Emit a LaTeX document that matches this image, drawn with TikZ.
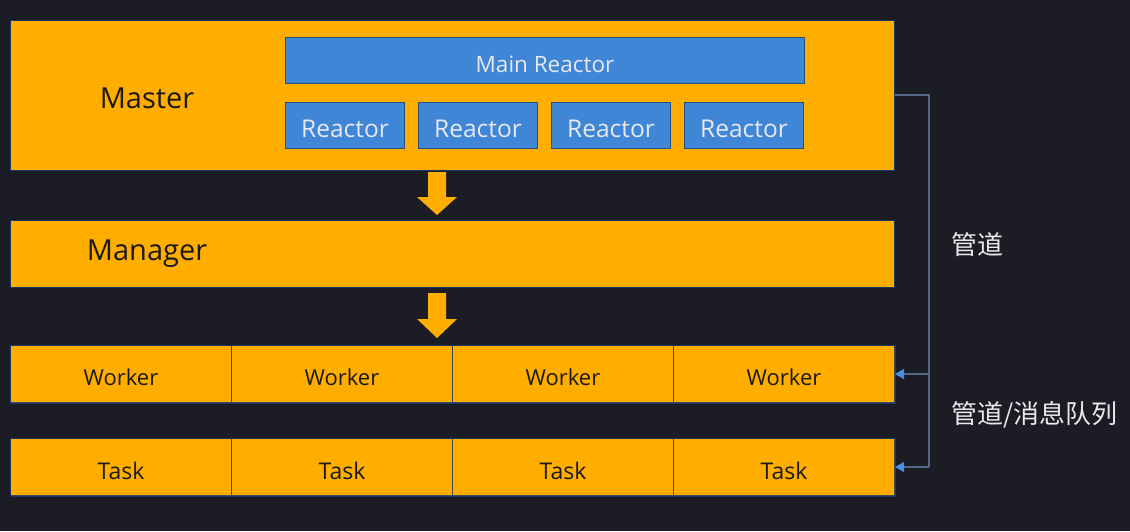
\documentclass[tikz,border=0pt]{standalone}
\usepackage{fontspec}
\setmainfont{Open Sans}
\newfontfamily\cjk{Noto Sans CJK SC}
\usetikzlibrary{arrows.meta,calc}
\definecolor{bgc}{HTML}{1C1C24}
\definecolor{orng}{HTML}{FFAE00}
\definecolor{blu}{HTML}{3F86D6}
\definecolor{bluedge}{HTML}{24507E}
\definecolor{navy}{HTML}{1A3766}
\definecolor{divc}{HTML}{3A4A5A}
\definecolor{linec}{HTML}{56688A}
\definecolor{tipc}{HTML}{4A8EE6}
\definecolor{txtd}{HTML}{1A1A1A}
\definecolor{txtl}{HTML}{E8E8EE}
\newcommand{\lowr}[2]{\raisebox{-#1}[\height][\depth]{#2}}
\tikzset{
  obox/.style={fill=orng, draw=navy, line width=0.8pt},
  bbox/.style={fill=blu, draw=bluedge, line width=1pt, text=txtl, font=\fontsize{24.5}{26}\selectfont},
  cell/.style={fill=orng, draw=divc, line width=1pt, text=txtd, font=\fontsize{22}{24}\selectfont},
  bigtxt/.style={text=txtd, font=\fontsize{29}{32}\selectfont},
  fatarrow/.style={fill=orng, draw=none},
  conn/.style={draw=linec, line width=1.1pt},
  tip/.style={-{Triangle[length=9pt,width=10pt,fill=tipc,color=tipc]}},
  lbl/.style={text=txtl, font=\cjk\fontsize{26}{28}\selectfont, anchor=west}
}
\begin{document}
\begin{tikzpicture}[x=1pt,y=-1pt]
\fill[bgc] (0,0) rectangle (1130,531);
\useasboundingbox (0,0) rectangle (1130,531);
% Master
\node[obox, minimum width=884pt, minimum height=150pt, inner sep=0pt, anchor=north west] (master) at (10,20) {};
\node[bigtxt] (mastertxt) at (147,98) {Master};
\node[bbox, minimum width=519pt, minimum height=46pt, inner sep=0pt, anchor=north west, font=\fontsize{22.5}{24}\selectfont] (mainr) at (285,37) {\lowr{4pt}{Main Reactor}};
\foreach \x/\n in {285/1,418/2,551/3,684/4}{
  \node[bbox, minimum width=119pt, minimum height=46pt, inner sep=0pt, anchor=north west] (r\n) at (\x,102) {\lowr{3pt}{Reactor}};
}
% Manager
\node[obox, minimum width=884pt, minimum height=67pt, inner sep=0pt, anchor=north west] (manager) at (10,220) {};
\node[bigtxt] (managertxt) at (147,254) {Manager};
% fat arrows
\fill[fatarrow] (428,172) -- (446,172) -- (446,197) -- (457,197) -- (437,215) -- (417,197) -- (428,197) -- cycle;
\fill[fatarrow] (428,293) -- (446,293) -- (446,319) -- (457,319) -- (437,338) -- (417,319) -- (428,319) -- cycle;
% Workers and Tasks
\foreach \x/\n in {10/1,231/2,452/3,673/4}{
  \node[cell, minimum width=221pt, minimum height=57pt, inner sep=0pt, anchor=north west] (w\n) at (\x,345) {\lowr{3pt}{Worker}};
  \node[cell, minimum width=221pt, minimum height=57pt, inner sep=0pt, anchor=north west, font=\fontsize{23}{25}\selectfont] (t\n) at (\x,438) {\lowr{4pt}{Task}};
}
\draw[obox, fill=none] (w1.north west) rectangle (w4.south east);
\draw[obox, fill=none] (t1.north west) rectangle (t4.south east);
% connector
\coordinate (cA) at ($(master.north east)+(0,75)$);
\coordinate (cR) at (929,0);
\draw[conn] (cA) -- (cA -| cR) -- (cR |- t4.east);
\draw[conn, tip] (cR |- w4.east) -- (w4.east);
\draw[conn, tip] (cR |- t4.east) -- (t4.east);
% labels
\node[lbl] (l1) at (948,245) {管道};
\node[lbl] (l2) at (948,415) {管道/消息队列};
\end{tikzpicture}
\end{document}
